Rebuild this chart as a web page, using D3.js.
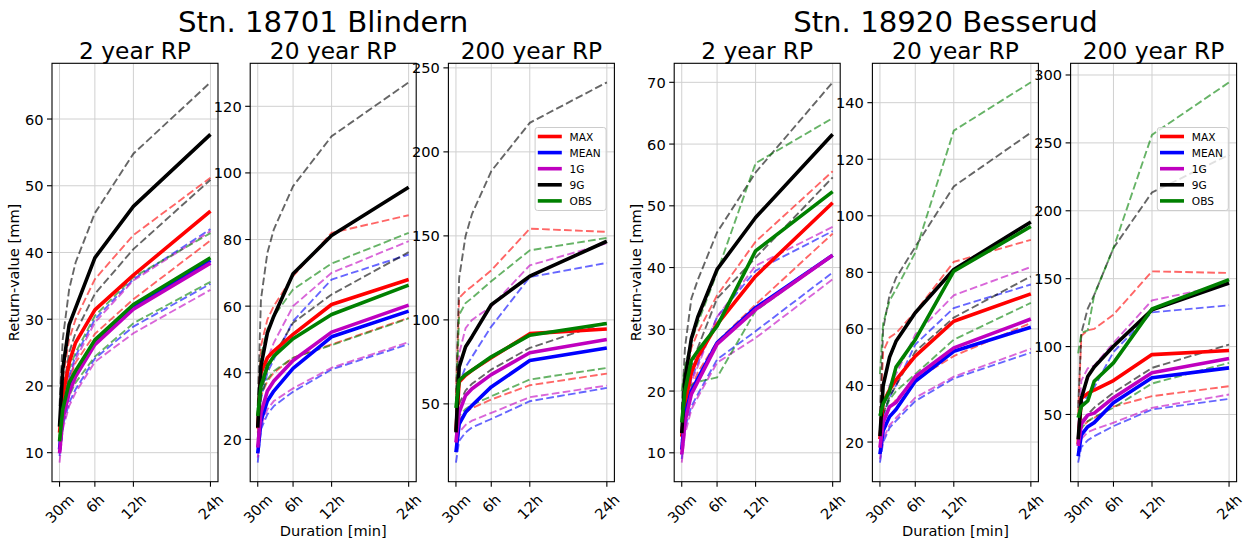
<!DOCTYPE html>
<html>
<head>
<meta charset="utf-8">
<script src="https://cdn.jsdelivr.net/npm/d3@7"></script>
<style>
  body { margin: 0; background: #ffffff; }
  svg { display: block; }
  text { font-family: "DejaVu Sans", "Liberation Sans", sans-serif; fill: #000; }
</style>
</head>
<body>
<svg id="chart" width="1250" height="543"></svg>
<script>
// Durations in minutes at which return values are estimated
const durations = [30, 60, 120, 180, 360, 720, 1440];
const durationTicks = [30, 360, 720, 1440];
const durationLabels = ["30m", "6h", "12h", "24h"];

const seriesNames = ["MAX", "MEAN", "1G", "9G", "OBS"];
const seriesColors = ["#ff0000", "#0000ff", "#bf00bf", "#000000", "#008000"];

const stationTitles = ["Stn. 18701 Blindern", "Stn. 18920 Besserud"];
const periodTitles = ["2 year RP", "20 year RP", "200 year RP"];

// Return values [mm]; rows: MAX, MEAN, 1G, 9G, OBS; columns follow durations
const blindern2 = [
  [13.0, 18.5, 23.5, 26.5, 31.4, 36.6, 46.2],
  [10.5, 15.5, 19.5, 22.0, 26.5, 31.8, 38.8],
  [9.9, 15.0, 19.0, 21.4, 26.2, 31.5, 38.4],
  [13.9, 22.5, 29.2, 31.7, 39.2, 46.9, 57.7],
  [11.7, 16.5, 20.5, 22.3, 26.9, 32.2, 39.2]
];
const blindern2Lower = [
  [12.0, 16.5, 21.0, 23.5, 27.8, 33.0, 41.8],
  [9.5, 14.0, 17.5, 19.5, 24.1, 28.9, 35.3],
  [8.5, 13.5, 17.0, 19.0, 23.6, 27.9, 34.4],
  [12.0, 19.0, 25.0, 28.0, 33.8, 40.5, 50.9],
  [10.8, 15.0, 18.5, 20.5, 24.4, 29.4, 35.6]
];
const blindern2Upper = [
  [14.5, 21.0, 27.0, 30.0, 36.0, 42.6, 51.2],
  [11.5, 17.0, 21.5, 24.5, 30.0, 36.0, 43.5],
  [11.0, 16.5, 21.0, 24.0, 29.5, 35.8, 43.2],
  [17.0, 27.0, 34.5, 38.5, 45.9, 54.8, 65.5],
  [12.5, 18.0, 22.5, 25.0, 30.5, 36.3, 42.9]
];

const blindern20 = [
  [23.3, 40.0, 44.5, 46.5, 51.5, 60.5, 68.0],
  [15.8, 25.5, 31.5, 34.5, 41.3, 50.8, 58.5],
  [17.5, 28.0, 34.5, 37.5, 43.7, 52.2, 60.3],
  [23.5, 42.0, 52.0, 57.0, 69.7, 81.2, 95.7],
  [27.0, 36.0, 42.0, 45.0, 50.2, 57.5, 66.3]
];
const blindern20Lower = [
  [22.0, 33.0, 37.5, 40.0, 44.5, 48.5, 56.5],
  [13.0, 23.0, 27.5, 30.0, 34.3, 41.0, 48.6],
  [14.5, 24.0, 29.0, 31.5, 35.3, 41.5, 49.2],
  [20.0, 34.0, 41.0, 45.0, 55.0, 63.5, 76.2],
  [25.0, 33.5, 38.0, 40.5, 44.5, 48.3, 56.3]
];
const blindern20Upper = [
  [25.0, 48.0, 56.0, 60.0, 69.0, 82.0, 87.3],
  [18.0, 32.0, 40.0, 44.0, 55.5, 68.0, 75.5],
  [19.0, 34.0, 44.0, 49.0, 60.0, 70.0, 79.5],
  [30.0, 62.0, 76.0, 83.0, 96.0, 111.0, 127.2],
  [29.0, 45.0, 53.0, 57.0, 65.0, 72.8, 82.0]
];

const blindern200 = [
  [34.0, 63.0, 67.0, 70.0, 77.4, 91.8, 94.6],
  [21.2, 38.0, 45.0, 49.0, 60.1, 75.8, 83.3],
  [27.0, 45.0, 55.0, 59.0, 67.4, 80.4, 88.3],
  [33.0, 72.0, 84.0, 90.0, 109.0, 126.0, 146.8],
  [47.6, 64.0, 67.5, 70.0, 78.0, 90.9, 97.8]
];
const blindern200Lower = [
  [26.0, 40.0, 45.0, 47.5, 52.6, 61.1, 68.0],
  [15.0, 28.0, 33.0, 36.0, 41.0, 51.6, 59.5],
  [22.0, 33.0, 37.5, 40.0, 44.6, 54.0, 60.9],
  [30.0, 50.0, 58.0, 62.0, 70.4, 83.3, 98.6],
  [27.0, 43.0, 47.0, 49.5, 54.5, 64.5, 71.4]
];
const blindern200Upper = [
  [55.0, 113.0, 117.0, 120.0, 129.5, 154.3, 152.4],
  [28.0, 62.0, 72.0, 78.0, 96.0, 125.5, 133.9],
  [35.0, 80.0, 95.0, 100.0, 108.0, 132.5, 145.6],
  [50.0, 125.0, 150.0, 163.0, 188.5, 217.3, 241.4],
  [45.0, 103.0, 110.0, 113.0, 123.0, 141.4, 148.8]
];

const besserud2 = [
  [12.6, 18.0, 23.0, 25.5, 30.8, 38.6, 50.5],
  [10.5, 16.0, 20.0, 22.0, 27.8, 33.5, 42.0],
  [9.7, 15.0, 19.5, 21.5, 27.6, 33.2, 42.0],
  [13.2, 22.0, 28.5, 32.0, 39.7, 48.1, 61.6],
  [14.9, 20.0, 25.0, 26.5, 30.5, 42.7, 52.3]
];
const besserud2Lower = [
  [11.5, 16.0, 20.5, 23.0, 28.0, 34.0, 45.5],
  [9.0, 14.0, 17.5, 19.5, 25.1, 29.7, 39.2],
  [8.4, 13.0, 17.0, 19.0, 24.6, 28.6, 38.1],
  [11.0, 18.0, 24.0, 27.0, 35.0, 41.6, 54.6],
  [12.0, 17.0, 21.0, 21.5, 22.2, 33.0, 42.0]
];
const besserud2Upper = [
  [14.0, 21.0, 27.0, 29.5, 35.5, 44.2, 55.6],
  [12.0, 17.5, 22.0, 24.5, 32.0, 39.5, 45.9],
  [11.5, 17.0, 21.5, 24.0, 32.0, 40.3, 46.6],
  [17.0, 27.0, 35.0, 38.0, 45.7, 55.4, 70.0],
  [20.0, 24.0, 28.0, 31.0, 39.2, 56.9, 64.2]
];

const besserud20 = [
  [21.0, 34.0, 38.5, 42.0, 50.4, 62.7, 72.4],
  [15.7, 24.0, 29.0, 31.5, 41.5, 52.1, 60.6],
  [18.0, 27.0, 32.5, 34.0, 43.1, 53.3, 63.5],
  [22.1, 40.0, 50.0, 55.6, 65.7, 81.0, 97.8],
  [29.2, 33.5, 38.0, 46.5, 56.2, 80.4, 96.2]
];
const besserud20Lower = [
  [18.0, 27.0, 32.0, 35.0, 42.0, 50.4, 62.1],
  [12.7, 20.0, 25.0, 27.5, 34.5, 42.5, 51.6],
  [14.0, 21.0, 26.0, 28.5, 35.7, 43.1, 53.0],
  [18.0, 30.0, 36.0, 40.0, 52.0, 64.0, 78.6],
  [25.0, 30.0, 35.0, 38.0, 44.0, 56.2, 69.2]
];
const besserud20Upper = [
  [26.0, 52.0, 57.0, 58.5, 66.0, 83.7, 91.5],
  [17.0, 29.0, 36.0, 40.0, 54.5, 67.4, 75.7],
  [20.0, 33.0, 40.0, 44.0, 58.0, 71.9, 81.9],
  [30.0, 60.0, 72.0, 78.0, 89.0, 110.4, 129.4],
  [44.0, 62.0, 70.0, 74.0, 87.0, 130.1, 147.2]
];

const besserud200 = [
  [28.0, 62.0, 65.5, 68.0, 75.0, 94.1, 97.1],
  [19.3, 35.0, 41.0, 44.0, 58.6, 77.0, 84.3],
  [26.7, 43.0, 49.5, 51.0, 62.3, 80.7, 91.2],
  [31.6, 62.0, 78.0, 85.0, 100.2, 127.0, 146.8],
  [47.6, 56.0, 60.0, 74.5, 88.0, 127.7, 149.3]
];
const besserud200Lower = [
  [28.0, 40.0, 45.0, 47.5, 55.8, 63.5, 70.8],
  [14.5, 26.0, 31.0, 34.0, 41.4, 53.7, 61.5],
  [24.0, 32.0, 37.0, 39.0, 43.9, 54.9, 64.7],
  [30.0, 45.0, 50.0, 55.0, 66.0, 84.3, 101.5],
  [30.0, 40.0, 45.0, 48.0, 55.0, 72.8, 88.0]
];
const besserud200Upper = [
  [50.0, 108.0, 112.0, 113.0, 123.5, 155.4, 154.2],
  [30.0, 55.0, 65.0, 70.0, 96.0, 125.2, 130.4],
  [40.0, 75.0, 84.0, 86.0, 102.7, 134.0, 146.0],
  [55.0, 110.0, 128.0, 138.0, 172.6, 213.5, 241.2],
  [95.0, 110.0, 112.0, 138.0, 172.6, 255.9, 294.6]
];

// y-axis tick values per panel
const ticks2Blindern = [10, 20, 30, 40, 50, 60];
const ticks20Blindern = [20, 40, 60, 80, 100, 120];
const ticks200Blindern = [50, 100, 150, 200, 250];
const ticks2Besserud = [10, 20, 30, 40, 50, 60, 70];
const ticks20Besserud = [20, 40, 60, 80, 100, 120, 140];
const ticks200Besserud = [50, 100, 150, 200, 250, 300];

const panels = [
  { station: 0, period: 0, est: blindern2, lo: blindern2Lower, hi: blindern2Upper, ticks: ticks2Blindern },
  { station: 0, period: 1, est: blindern20, lo: blindern20Lower, hi: blindern20Upper, ticks: ticks20Blindern },
  { station: 0, period: 2, est: blindern200, lo: blindern200Lower, hi: blindern200Upper, ticks: ticks200Blindern },
  { station: 1, period: 0, est: besserud2, lo: besserud2Lower, hi: besserud2Upper, ticks: ticks2Besserud },
  { station: 1, period: 1, est: besserud20, lo: besserud20Lower, hi: besserud20Upper, ticks: ticks20Besserud },
  { station: 1, period: 2, est: besserud200, lo: besserud200Lower, hi: besserud200Upper, ticks: ticks200Besserud }
];

// ---- layout ----
const svg = d3.select("#chart");
const panelLefts = [52, 250.2, 448.4, 674.2, 872.4, 1070.6];
const panelW = 166;
const plotTop = 63.3, plotBottom = 481.7;
const tickLen = 5, tickPad = 5;
const fsTick = 14.6;

// station titles
const stationCenters = [323.2, 945.4];
stationTitles.forEach((t, i) => {
  svg.append("text")
    .attr("x", stationCenters[i]).attr("y", 32)
    .attr("text-anchor", "middle")
    .attr("font-size", 29.2)
    .text(t);
});

panels.forEach((p, pi) => {
  const left = panelLefts[pi];
  const right = left + panelW;
  const g = svg.append("g");

  const xPad = (d3.max(durations) - d3.min(durations)) * 0.05;
  const x = d3.scaleLinear()
    .domain([d3.min(durations) - xPad, d3.max(durations) + xPad])
    .range([left, right]);

  const all = [p.est, p.lo, p.hi].flat(2);
  const yMin = d3.min(all), yMax = d3.max(all);
  const yPad = (yMax - yMin) * 0.05;
  const y = d3.scaleLinear()
    .domain([yMin - yPad, yMax + yPad])
    .range([plotBottom, plotTop]);

  // grid
  g.selectAll(".gx").data(durationTicks).join("line")
    .attr("x1", d => x(d)).attr("x2", d => x(d))
    .attr("y1", plotTop).attr("y2", plotBottom)
    .attr("stroke", "#d0d0d0").attr("stroke-width", 1);
  g.selectAll(".gy").data(p.ticks).join("line")
    .attr("x1", left).attr("x2", right)
    .attr("y1", d => y(d)).attr("y2", d => y(d))
    .attr("stroke", "#d0d0d0").attr("stroke-width", 1);

  const clipId = "clip" + pi;
  svg.append("clipPath").attr("id", clipId)
    .append("rect").attr("x", left).attr("y", plotTop)
    .attr("width", panelW).attr("height", plotBottom - plotTop);

  const lines = g.append("g").attr("clip-path", `url(#${clipId})`);
  const line = d3.line().x(d => x(d[0])).y(d => y(d[1]));

  // confidence bounds (dashed)
  seriesNames.forEach((s, si) => {
    [p.lo[si], p.hi[si]].forEach(vals => {
      lines.append("path")
        .attr("d", line(durations.map((d, k) => [d, vals[k]])))
        .attr("fill", "none")
        .attr("stroke", seriesColors[si])
        .attr("stroke-opacity", 0.6)
        .attr("stroke-width", 1.9)
        .attr("stroke-dasharray", "7.7,3.3");
    });
  });
  // estimates (solid)
  seriesNames.forEach((s, si) => {
    lines.append("path")
      .attr("d", line(durations.map((d, k) => [d, p.est[si][k]])))
      .attr("fill", "none")
      .attr("stroke", seriesColors[si])
      .attr("stroke-width", 3.6)
      .attr("stroke-linejoin", "round");
  });

  // frame
  g.append("rect")
    .attr("x", left).attr("y", plotTop)
    .attr("width", panelW).attr("height", plotBottom - plotTop)
    .attr("fill", "none").attr("stroke", "#000").attr("stroke-width", 1.1);

  // y ticks
  p.ticks.forEach(t => {
    g.append("line").attr("x1", left - tickLen).attr("x2", left)
      .attr("y1", y(t)).attr("y2", y(t)).attr("stroke", "#000").attr("stroke-width", 1.1);
    g.append("text").attr("x", left - tickLen - tickPad + 1.5).attr("y", y(t))
      .attr("text-anchor", "end").attr("dominant-baseline", "central")
      .attr("font-size", fsTick).text(t);
  });

  // x ticks with rotated labels
  durationTicks.forEach((t, k) => {
    g.append("line").attr("x1", x(t)).attr("x2", x(t))
      .attr("y1", plotBottom).attr("y2", plotBottom + tickLen).attr("stroke", "#000").attr("stroke-width", 1.1);
    const lab = g.append("text").attr("font-size", fsTick).text(durationLabels[k]);
    const w = lab.node().getComputedTextLength();
    const h = fsTick * 1.0;
    const d = (w + h) / Math.SQRT2;
    lab.attr("text-anchor", "middle").attr("dominant-baseline", "central")
      .attr("transform", `translate(${x(t)},${plotBottom + tickLen + tickPad + d / 2}) rotate(-45)`);
  });

  // panel title
  svg.append("text")
    .attr("x", (left + right) / 2).attr("y", 58.5)
    .attr("text-anchor", "middle").attr("font-size", 23.3)
    .text(periodTitles[p.period]);

  if (p.period === 0) {
    svg.append("text")
      .attr("transform", `translate(${left - 33},${(plotTop + plotBottom) / 2}) rotate(-90)`)
      .attr("text-anchor", "middle").attr("font-size", fsTick)
      .text("Return-value [mm]");
  }
  if (p.period === 1) {
    svg.append("text")
      .attr("x", (left + right) / 2).attr("y", 536)
      .attr("text-anchor", "middle").attr("font-size", fsTick)
      .text("Duration [min]");
  }

  if (p.period === 2) {
    const lx = left + 86.7, ly = 127.5;
    const lg = svg.append("g").attr("transform", `translate(${lx},${ly})`);
    lg.append("rect").attr("x", 0).attr("y", 0).attr("width", 71).attr("height", 83)
      .attr("rx", 2.5).attr("fill", "#ffffff").attr("fill-opacity", 0.8)
      .attr("stroke", "#cccccc").attr("stroke-width", 1);
    seriesNames.forEach((s, si) => {
      const yy = 9 + si * 16.1;
      lg.append("line").attr("x1", 2.7).attr("x2", 26.7).attr("y1", yy).attr("y2", yy)
        .attr("stroke", seriesColors[si]).attr("stroke-width", 3.6);
      lg.append("text").attr("x", 34.5).attr("y", yy).attr("dominant-baseline", "central")
        .attr("font-size", 10.6).text(s);
    });
  }
});
</script>
</body>
</html>
